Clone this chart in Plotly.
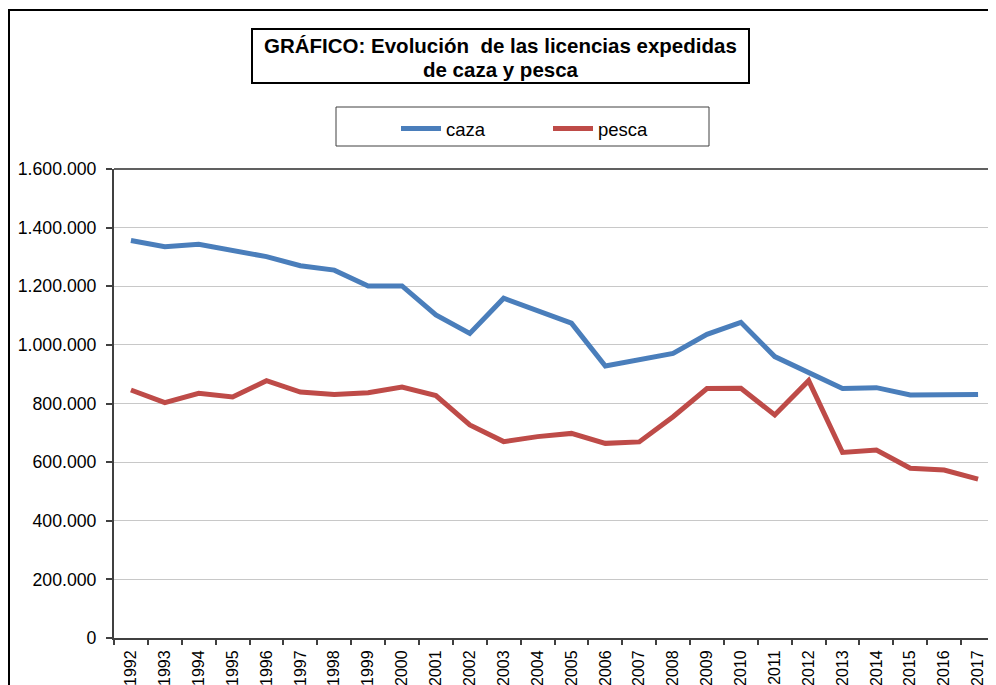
import plotly.graph_objects as go

years = [str(y) for y in range(1992, 2018)]
caza = [1356000, 1335000, 1343000, 1321000, 1301000, 1270000, 1255000, 1201000, 1201000,
        1102000, 1039000, 1159000, 1116000, 1074000, 928000, 950000, 971000, 1036000,
        1077000, 960000, 907000, 851000, 854000, 829000, 830000, 831000]
pesca = [846000, 803000, 835000, 822000, 878000, 839000, 831000, 837000, 856000,
         827000, 727000, 670000, 687000, 698000, 664000, 669000, 755000, 851000,
         852000, 761000, 878000, 633000, 641000, 579000, 573000, 542000]
y_ticks = [0, 200000, 400000, 600000, 800000, 1000000, 1200000, 1400000, 1600000]

OFF = 8  # page body margin
W, H = 996 - OFF, 685 - OFF
L, R, T, B = 114 - OFF, 1, 169 - OFF, 685 - 638
pw, ph = W - L - R, H - T - B

def px(x):  # screen px -> paper
    return (x - OFF - L) / pw

def py(y):
    return (H - B - (y - OFF)) / ph

FONT = "Arial, Liberation Sans, sans-serif"

fig = go.Figure()
fig.add_trace(go.Scatter(x=years, y=caza, mode="lines", name="caza",
                         line=dict(color="#4A7EBB", width=5)))
fig.add_trace(go.Scatter(x=years, y=pesca, mode="lines", name="pesca",
                         line=dict(color="#BE4B48", width=5)))

shapes = [
    dict(type="rect", xref="paper", yref="paper", x0=px(9), x1=px(1010), y0=py(700), y1=py(10),
         line=dict(color="black", width=2), fillcolor="rgba(0,0,0,0)", layer="above"),
    dict(type="rect", xref="paper", yref="paper", x0=px(252), x1=px(749), y0=py(83), y1=py(29),
         line=dict(color="black", width=2), fillcolor="white"),
    dict(type="rect", xref="paper", yref="paper", x0=px(336), x1=px(709), y0=py(146), y1=py(107),
         line=dict(color="#404040", width=1), fillcolor="white"),
    dict(type="line", xref="paper", yref="paper", x0=0, x1=1, y0=1, y1=1,
         line=dict(color="#606060", width=2)),
]

title_font = dict(size=20.5, family=FONT, color="black")
fig.update_layout(
    width=W, height=H,
    margin=dict(l=L, r=R, t=T, b=B, pad=0, autoexpand=False),
    paper_bgcolor="white", plot_bgcolor="white",
    separators=",.",
    font=dict(family=FONT, color="black"),
    shapes=shapes,
    showlegend=True,
    legend=dict(orientation="h", x=px(396), y=py(110), xanchor="left", yanchor="top",
                bgcolor="rgba(0,0,0,0)", borderwidth=0, font=dict(size=18.5, family=FONT),
                entrywidth=97, entrywidthmode="pixels", itemwidth=40),
    annotations=[
        dict(text="<b>GRÁFICO: Evolución  de las licencias expedidas</b>",
             xref="paper", yref="paper", x=px(500), y=py(46), xanchor="center",
             yanchor="middle", showarrow=False, font=title_font),
        dict(text="<b>de caza y pesca</b>",
             xref="paper", yref="paper", x=px(500.5), y=py(70), xanchor="center",
             yanchor="middle", showarrow=False, font=title_font),
    ],
    xaxis=dict(type="category", range=[-0.5, 25.5], tickson="boundaries", ticks="outside",
               ticklen=5, tickcolor="#404040", tickwidth=1.5, showline=True, linecolor="#404040",
               linewidth=2, showgrid=False, tickangle=-90, ticklabelstandoff=4, automargin=False,
               tickfont=dict(size=16, family=FONT)),
    yaxis=dict(range=[0, 1600000], tickvals=y_ticks, tickformat=",d", ticks="outside",
               ticklen=6, tickcolor="#404040", tickwidth=1.5, showline=True, linecolor="#404040",
               linewidth=2, showgrid=True, gridcolor="#C8C8C8", gridwidth=1, zeroline=False,
               ticklabelstandoff=6, automargin=False, tickfont=dict(size=17.7, family=FONT)),
)

fig.write_html("out.html")
